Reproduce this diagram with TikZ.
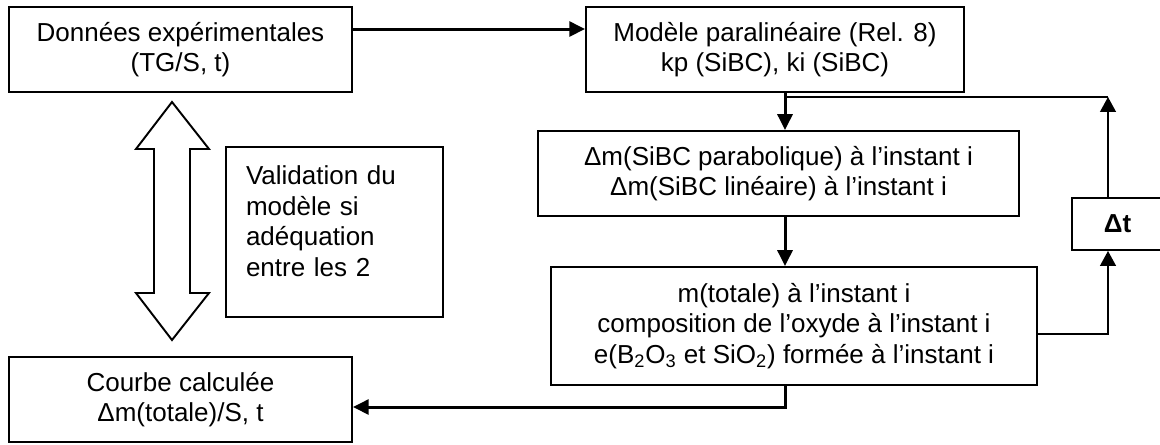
\documentclass[tikz,border=0pt]{standalone}
\usepackage{fontspec}
\setmainfont{Liberation Sans}
\usetikzlibrary{arrows.meta}

\begin{document}
\begin{tikzpicture}[x=0.02cm,y=-0.02cm,
  font=\fontsize{14.8}{17.4}\selectfont,
  bloc/.style={draw,line width=1.1pt,align=center,inner sep=0pt,minimum height=1.7cm},
  fleche/.style={line width=1.7pt,-{Triangle[length=9pt,width=8.5pt]}},
  retour/.style={line width=1pt,-{Triangle[length=8.5pt,width=9pt]}}]
  \useasboundingbox (0,0) rectangle (1160,444);
  \coordinate (colx) at (785,0);
  \coordinate (colfb) at (1108,0);
  \coordinate (feed) at (0,97);

  \node[bloc,minimum width=6.86cm] (donnees) at (180.5,49.5) {Données expérimentales\\(TG/S, t)};
  \node[bloc,minimum width=7.56cm] (modele) at (775,49.5) {Modèle paralinéaire (Rel. 8)\\kp (SiBC), ki (SiBC)};
  \node[bloc,minimum width=9.62cm] (dmSiBC) at (778.5,173.5) {Δm(SiBC parabolique) à l’instant i\\Δm(SiBC linéaire) à l’instant i};
  \node[bloc,minimum width=9.72cm,minimum height=2.36cm] (mtot) at (794,326)
    {m(totale) à l’instant i\\composition de l’oxyde à l’instant i\\e(B\textsubscript{2}O\textsubscript{3} et SiO\textsubscript{2}) formée à l’instant i};
  \node[bloc,minimum width=6.86cm] (courbe) at (180.5,399.5) {Courbe calculée\\Δm(totale)/S, t};
  \node[bloc,align=left,text width=3.54cm,inner xsep=0.4cm,minimum height=3.4cm] (valid) at (334.5,232)
    {Validation du\\modèle si\\adéquation\\entre les 2\\[-5pt]\mbox{}};
  \node[bloc,minimum width=1.82cm,minimum height=1.04cm,font=\fontsize{14.8}{17.4}\selectfont\bfseries] (dt) at (1117.5,224) {Δt};

  % double fleche de validation
  \draw[line width=1.1pt,fill=white] (172,102) -- (209,149) -- (190,149) -- (190,293) -- (209,293)
    -- (172,340) -- (136,293) -- (154,293) -- (154,149) -- (136,149) -- cycle;

  \draw[fleche] ([yshift=0.41cm]donnees.east) -- ([yshift=0.41cm]donnees.east -| modele.west);
  \draw[fleche] (modele.south -| colx) -- (dmSiBC.north -| colx);
  \draw[fleche] (dmSiBC.south -| colx) -- (mtot.north -| colx);
  \draw[fleche] (mtot.south -| colx) |- ([yshift=-0.15cm]courbe.east);
  \draw[retour] ([yshift=-0.16cm]mtot.east) -| (dt.south -| colfb);
  \draw[retour] (dt.north -| colfb) -- (colfb |- feed);
  \draw[line width=1pt] (colfb |- feed) -- (colx |- feed);
\end{tikzpicture}
\end{document}
